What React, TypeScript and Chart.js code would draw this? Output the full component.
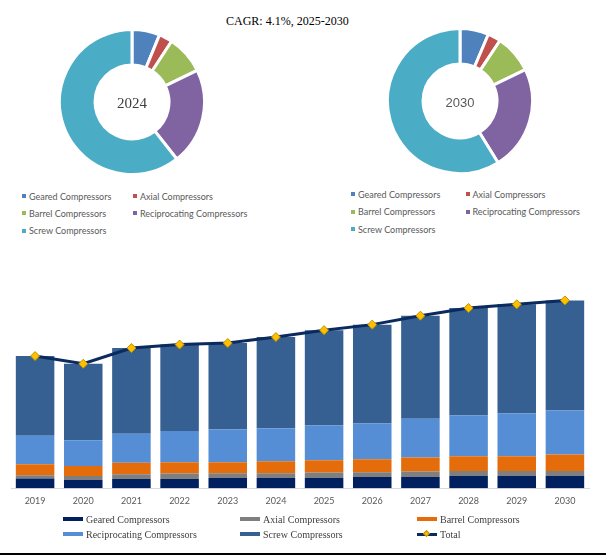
import React, { useEffect, useRef } from "react";
import { Chart, registerables } from "chart.js";

Chart.register(...registerables);

// ---------- Data ----------
const segments = [
  "Geared Compressors",
  "Axial Compressors",
  "Barrel Compressors",
  "Reciprocating Compressors",
  "Screw Compressors",
];
const donutColors = ["#4F81BD", "#C0504D", "#9BBB59", "#8064A2", "#4BACC6"];
const share2024 = [6.2, 3.0, 8.6, 21.6, 60.6];
const share2030 = [6.4, 2.9, 8.6, 23.3, 58.8];

const years = ["2019", "2020", "2021", "2022", "2023", "2024", "2025", "2026", "2027", "2028", "2029", "2030"];
const geared = [0.97, 0.83, 0.93, 0.93, 1.03, 1.03, 1.03, 1.13, 1.13, 1.23, 1.23, 1.23];
const axial = [0.33, 0.40, 0.47, 0.53, 0.47, 0.47, 0.53, 0.47, 0.53, 0.50, 0.50, 0.50];
const barrel = [1.10, 1.00, 1.13, 1.13, 1.10, 1.20, 1.23, 1.30, 1.40, 1.47, 1.47, 1.63];
const reciprocating = [2.83, 2.57, 2.90, 3.13, 3.27, 3.30, 3.50, 3.57, 3.87, 4.07, 4.27, 4.40];
const screw = [7.97, 7.63, 8.57, 8.63, 8.63, 9.10, 9.50, 9.87, 10.30, 10.73, 10.90, 11.00];
const total = [13.20, 12.43, 14.00, 14.35, 14.50, 15.10, 15.79, 16.34, 17.23, 18.00, 18.37, 18.76];
const barSeries = [
  { label: "Geared Compressors", values: geared, color: "#002060" },
  { label: "Axial Compressors", values: axial, color: "#7F7F7F" },
  { label: "Barrel Compressors", values: barrel, color: "#E46C0A" },
  { label: "Reciprocating Compressors", values: reciprocating, color: "#558ED5" },
  { label: "Screw Compressors", values: screw, color: "#376092" },
];
const totalLabel = "Total";
const titleText = "CAGR: 4.1%, 2025-2030";

// ---------- Components ----------
function Donut(props: { data: number[]; left: number; top: number; size: number }) {
  const ref = useRef<HTMLCanvasElement>(null);
  useEffect(() => {
    const chart = new Chart(ref.current!, {
      type: "doughnut",
      data: {
        labels: segments,
        datasets: [
          {
            data: props.data,
            backgroundColor: donutColors,
            borderColor: "#FFFFFF",
            borderWidth: 3,
          },
        ],
      },
      options: {
        responsive: false,
        animation: false,
        cutout: "51%",
        layout: { padding: 0 },
        plugins: { legend: { display: false }, tooltip: { enabled: false } },
      },
    });
    return () => chart.destroy();
  }, []);
  return (
    <canvas
      ref={ref}
      width={props.size}
      height={props.size}
      style={{ position: "absolute", left: props.left, top: props.top, width: props.size, height: props.size }}
    />
  );
}

function DonutLegend(props: { left: number; top: number; colWidth: number; rowHeight: number }) {
  return (
    <div style={{ position: "absolute", left: props.left, top: props.top }}>
      {segments.map((s, i) => {
        const col = i % 2;
        const row = Math.floor(i / 2);
        return (
          <div
            key={s}
            style={{
              position: "absolute",
              left: col * props.colWidth,
              top: row * props.rowHeight,
              whiteSpace: "nowrap",
              display: "flex",
              alignItems: "center",
              height: 12,
              fontFamily: "Lato, 'Noto Sans', sans-serif",
              fontSize: 9,
              color: "#595959",
            }}
          >
            <span style={{ display: "inline-block", width: 4, height: 4, background: donutColors[i], marginRight: 3 }} />
            <span>{s}</span>
          </div>
        );
      })}
    </div>
  );
}

function BarChart() {
  const ref = useRef<HTMLCanvasElement>(null);
  useEffect(() => {
    const chart = new Chart(ref.current!, {
      type: "bar",
      data: {
        labels: years,
        datasets: [
          {
            type: "line",
            label: totalLabel,
            data: total,
            borderColor: "#0B2A5E",
            borderWidth: 3,
            pointStyle: "rectRot",
            pointRadius: 4.5,
            pointBackgroundColor: "#FFC000",
            pointBorderColor: "#BF8F00",
            pointBorderWidth: 1,
            stack: "total",
            order: 0,
            tension: 0,
            clip: false,
          } as any,
          ...barSeries.map((s) => ({
            type: "bar" as const,
            label: s.label,
            data: s.values,
            backgroundColor: s.color,
            borderWidth: 0,
            stack: "bars",
            order: 1,
            barPercentage: 0.8,
            categoryPercentage: 1.0,
          })),
        ],
      },
      options: {
        responsive: false,
        animation: false,
        layout: { autoPadding: false, padding: { left: 11, right: 17, top: 0, bottom: 0 } },
        plugins: { legend: { display: false }, tooltip: { enabled: false } },
        scales: {
          x: {
            stacked: true,
            grid: { display: false, drawTicks: false },
            border: { display: true, color: "#D9D9D9", width: 1 },
            ticks: {
              padding: 7,
              maxRotation: 0,
              autoSkip: false,
              color: "#595959",
              font: { family: "Lato, 'Noto Sans', sans-serif", size: 9 },
            },
          },
          y: {
            stacked: true,
            display: false,
            min: 0,
            max: 20,
          },
        },
      },
    });
    return () => chart.destroy();
  }, []);
  return (
    <canvas
      ref={ref}
      width={606}
      height={225}
      style={{ position: "absolute", left: 0, top: 288, width: 606, height: 225 }}
    />
  );
}

function BarLegend() {
  const items = [
    ...barSeries.map((s) => ({ label: s.label, color: s.color, line: false })),
    { label: totalLabel, color: "#0B2A5E", line: true },
  ];
  return (
    <div style={{ position: "absolute", left: 63, top: 512 }}>
      {items.map((it, i) => {
        const col = i % 3;
        const row = Math.floor(i / 3);
        return (
          <div
            key={it.label}
            style={{
              position: "absolute",
              left: col * 177,
              top: row * 15,
              height: 14,
              display: "flex",
              alignItems: "center",
              whiteSpace: "nowrap",
              fontFamily: "'Liberation Serif', 'Times New Roman', serif",
              fontSize: 10,
              color: "#404040",
            }}
          >
            {it.line ? (
              <span style={{ position: "relative", display: "inline-block", width: 20, height: 3, background: it.color, marginRight: 3 }}>
                <span
                  style={{
                    position: "absolute",
                    left: 7,
                    top: -2,
                    width: 5,
                    height: 5,
                    background: "#FFC000",
                    border: "0.5px solid #BF8F00",
                    transform: "rotate(45deg)",
                    boxSizing: "border-box",
                  }}
                />
              </span>
            ) : (
              <span style={{ display: "inline-block", width: 20, height: 4, background: it.color, marginRight: 3 }} />
            )}
            <span>{it.label}</span>
          </div>
        );
      })}
    </div>
  );
}

export default function App() {
  return (
    <div style={{ position: "absolute", left: 0, top: 0, width: 606, height: 556, background: "#FFFFFF", overflow: "hidden" }}>
      <div
        style={{
          position: "absolute",
          left: 226,
          top: 13,
          whiteSpace: "nowrap",
          fontFamily: "'Liberation Serif', 'Times New Roman', serif",
          fontSize: 12,
          color: "#000000",
          lineHeight: "16px",
        }}
      >
        {titleText}
      </div>

      <Donut data={share2024} left={58} top={28} size={148} />
      <div
        style={{
          position: "absolute",
          left: 102,
          top: 94,
          width: 60,
          textAlign: "center",
          fontFamily: "'Liberation Serif', 'Times New Roman', serif",
          fontSize: 15,
          lineHeight: "18px",
          color: "#404040",
        }}
      >
        2024
      </div>
      <DonutLegend left={22} top={190} colWidth={111} rowHeight={17.4} />

      <Donut data={share2030} left={386} top={27} size={148} />
      <div
        style={{
          position: "absolute",
          left: 430,
          top: 94,
          width: 60,
          textAlign: "center",
          fontFamily: "'Liberation Sans', Arial, sans-serif",
          fontSize: 13,
          lineHeight: "18px",
          color: "#595959",
        }}
      >
        2030
      </div>
      <DonutLegend left={351} top={188} colWidth={114.5} rowHeight={17.5} />

      <BarChart />
      <BarLegend />

      <div style={{ position: "absolute", left: 0, top: 553, width: 606, height: 2, background: "#000000" }} />
    </div>
  );
}
